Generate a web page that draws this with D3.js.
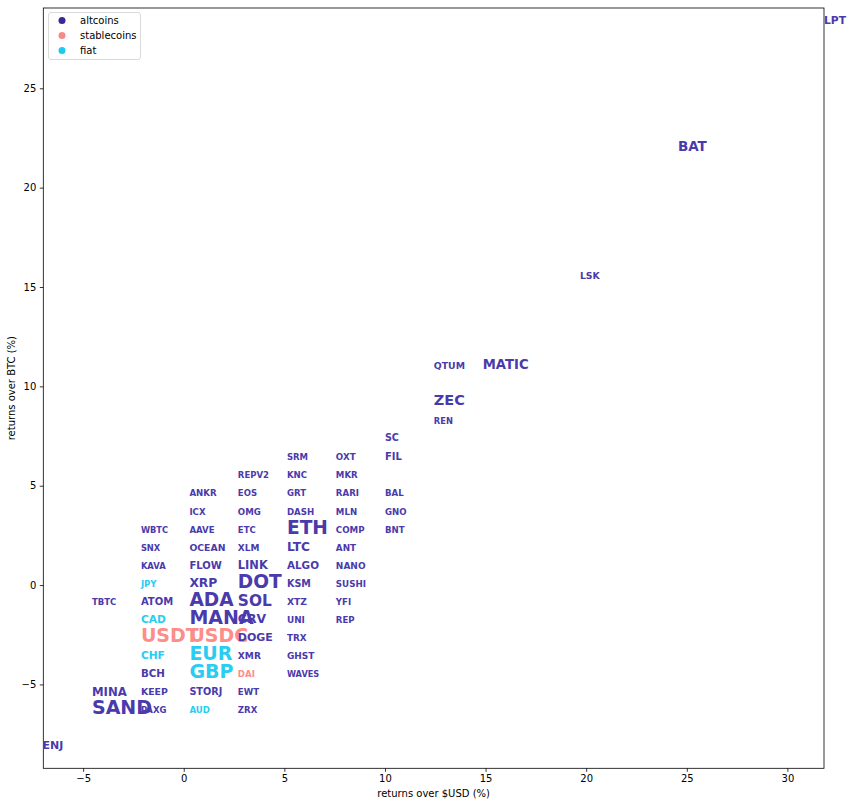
<!DOCTYPE html>
<html>
<head>
<meta charset="utf-8">
<script src="https://cdn.jsdelivr.net/npm/d3@7"></script>
<style>
html,body{margin:0;padding:0;background:#fff;}
svg{display:block;font-family:"DejaVu Sans",sans-serif;}
</style>
</head>
<body>
<svg id="chart" width="853" height="806"></svg>
<script>
// ---- data ----
const symbols = ["ENJ","TBTC","MINA","SAND",
  "WBTC","SNX","KAVA","JPY","ATOM","CAD","USDT","CHF","BCH","KEEP","PAXG",
  "ANKR","ICX","AAVE","OCEAN","FLOW","XRP","ADA","MANA","USDC","EUR","GBP","STORJ","AUD",
  "REPV2","EOS","OMG","ETC","XLM","LINK","DOT","SOL","CRV","DOGE","XMR","DAI","EWT","ZRX",
  "SRM","KNC","GRT","DASH","ETH","LTC","ALGO","KSM","XTZ","UNI","TRX","GHST","WAVES",
  "OXT","MKR","RARI","MLN","COMP","ANT","NANO","SUSHI","YFI","REP",
  "SC","FIL","BAL","GNO","BNT",
  "QTUM","ZEC","REN","MATIC","LSK","BAT","LPT"];
const usdReturns = [-7.02,-4.56,-4.56,-4.56,
  -2.13,-2.13,-2.13,-2.13,-2.13,-2.13,-2.13,-2.13,-2.13,-2.13,-2.13,
  0.28,0.28,0.28,0.28,0.28,0.28,0.28,0.28,0.28,0.28,0.28,0.28,0.28,
  2.69,2.69,2.69,2.69,2.69,2.69,2.69,2.69,2.69,2.69,2.69,2.69,2.69,2.69,
  5.13,5.13,5.13,5.13,5.13,5.13,5.13,5.13,5.13,5.13,5.13,5.13,5.13,
  7.56,7.56,7.56,7.56,7.56,7.56,7.56,7.56,7.56,7.56,
  10.0,10.0,10.0,10.0,10.0,
  12.43,12.43,12.43,14.86,19.69,24.56,31.82];
const btcReturns = [-8.15,-0.89,-5.44,-6.35,
  2.75,1.84,0.93,0.02,-0.89,-1.80,-2.71,-3.62,-4.53,-5.44,-6.35,
  4.57,3.66,2.75,1.84,0.93,0.02,-0.89,-1.80,-2.71,-3.62,-4.53,-5.44,-6.35,
  5.48,4.57,3.66,2.75,1.84,0.93,0.02,-0.89,-1.80,-2.71,-3.62,-4.53,-5.44,-6.35,
  6.39,5.48,4.57,3.66,2.75,1.84,0.93,0.02,-0.89,-1.80,-2.71,-3.62,-4.53,
  6.39,5.48,4.57,3.66,2.75,1.84,0.93,0.02,-0.89,-1.80,
  7.35,6.42,4.57,3.66,2.75,
  10.97,9.20,8.20,11.0,15.5,21.97,28.33];
const kinds = ["altcoins","altcoins","altcoins","altcoins",
  "altcoins","altcoins","altcoins","fiat","altcoins","fiat","stablecoins","fiat","altcoins","altcoins","altcoins",
  "altcoins","altcoins","altcoins","altcoins","altcoins","altcoins","altcoins","altcoins","stablecoins","fiat","fiat","altcoins","fiat",
  "altcoins","altcoins","altcoins","altcoins","altcoins","altcoins","altcoins","altcoins","altcoins","altcoins","altcoins","stablecoins","altcoins","altcoins",
  "altcoins","altcoins","altcoins","altcoins","altcoins","altcoins","altcoins","altcoins","altcoins","altcoins","altcoins","altcoins","altcoins",
  "altcoins","altcoins","altcoins","altcoins","altcoins","altcoins","altcoins","altcoins","altcoins","altcoins",
  "altcoins","altcoins","altcoins","altcoins","altcoins",
  "altcoins","altcoins","altcoins","altcoins","altcoins","altcoins","altcoins"];
const weights = [11,8.5,11.7,19,
  8.3,8.3,8.4,8.6,10,10.7,19,10.6,10.3,9.4,8.5,
  8.6,8.6,8.6,9.3,10,12.3,18.6,19,19,19,19,9.7,8.6,
  8.5,8.5,8.6,8.5,9,11.4,18.6,15.4,12.4,11,9.1,8.6,8.6,8.6,
  8.5,8.6,8.6,8.6,18.6,12.2,10.4,9.6,9.2,8.9,8.8,9,8.2,
  8.7,8.6,8.6,8.6,8.7,8.8,9,8.7,8.6,8.6,
  9.6,10,8.6,8.6,8.6,
  9.3,14.5,8.3,13.2,9.3,13.5,10.7];
const xTicks = [-5,0,5,10,15,20,25,30];
const yTicks = [-5,0,5,10,15,20,25];
const legendLabels = ["altcoins","stablecoins","fiat"];
const textColors = {altcoins:"#4a3aab", stablecoins:"#fc8d89", fiat:"#29cdf1"};
const markerColors = {altcoins:"#37299a", stablecoins:"#f88a86", fiat:"#1ccbef"};

// ---- layout ----
const svg = d3.select("#chart");
const L = 43.3, R = 824, T = 8, B = 768.3;
const x = d3.scaleLinear().domain([-6.98, 31.82]).range([L, R]);
const y = d3.scaleLinear().domain([-9.22, 29.04]).range([B, T]);

const rows = symbols.map((s,i)=>({s, xv:usdReturns[i], yv:btcReturns[i], k:kinds[i], w:weights[i]}));

// axes
const xAxis = d3.axisBottom(x).tickValues(xTicks).tickSize(3.5).tickPadding(3.5).tickFormat(d3.format("d"));
const yAxis = d3.axisLeft(y).tickValues(yTicks).tickSize(3.5).tickPadding(3.5).tickFormat(d3.format("d"));
const gx = svg.append("g").attr("transform",`translate(0,${B})`).call(xAxis);
const gy = svg.append("g").attr("transform",`translate(${L},0)`).call(yAxis);
[gx,gy].forEach(g=>{
  g.select(".domain").remove();
  g.selectAll("line").attr("stroke","#000").attr("stroke-width",0.8);
  g.selectAll("text").attr("font-family","DejaVu Sans").attr("font-size",10).attr("fill","#000");
});

// frame
svg.append("rect").attr("x",L).attr("y",T).attr("width",R-L).attr("height",B-T)
  .attr("fill","none").attr("stroke","#000").attr("stroke-width",0.8);

// labels
svg.append("g").selectAll("text").data(rows).join("text")
  .attr("x",d=>x(d.xv)).attr("y",d=>y(d.yv) + 1.3 + 0.1*d.w)
  .attr("font-family","DejaVu Sans").attr("font-weight","bold")
  .attr("font-size",d=>d.w)
  .attr("fill",d=>textColors[d.k])
  .text(d=>d.s);

// axis titles
svg.append("text").attr("x",(L+R)/2).attr("y",797).attr("text-anchor","middle")
  .attr("font-size",10).text("returns over $USD (%)");
svg.append("text").attr("transform",`translate(15,${(T+B)/2}) rotate(-90)`).attr("text-anchor","middle")
  .attr("font-size",10).text("returns over BTC (%)");

// legend
const lg = svg.append("g");
lg.append("rect").attr("x",48.5).attr("y",12.5).attr("width",92).attr("height",47).attr("rx",2.5)
  .attr("fill","#fff").attr("fill-opacity",0.8).attr("stroke","#d0d0d0").attr("stroke-width",0.8);
legendLabels.forEach((lab,i)=>{
  const yy = 20.5 + i*15;
  lg.append("circle").attr("cx",62).attr("cy",yy).attr("r",3.5).attr("fill",markerColors[lab]);
  lg.append("text").attr("x",80).attr("y",yy).attr("dy","0.35em").attr("font-size",10).attr("fill","#000").text(lab);
});
</script>
</body>
</html>
